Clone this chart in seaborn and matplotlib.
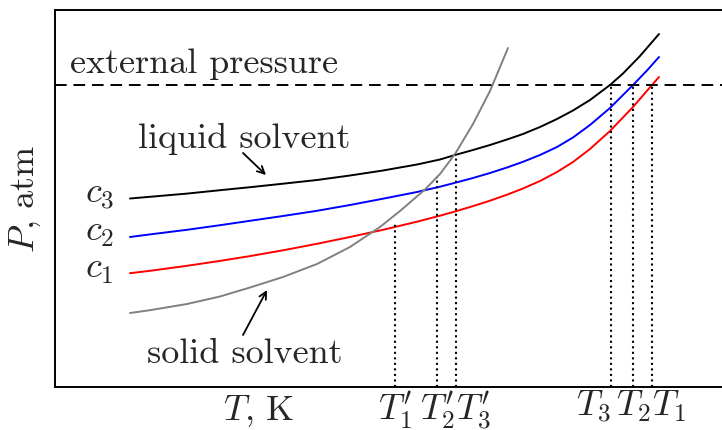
import numpy as np
import pandas as pd
import seaborn as sns
import matplotlib
matplotlib.use("Agg")
import matplotlib.pyplot as plt

sns.set_style("white")
plt.rcParams["font.family"] = "serif"
plt.rcParams["font.serif"] = ["cmr10", "DejaVu Serif"]
plt.rcParams["mathtext.fontset"] = "cm"
plt.rcParams["axes.unicode_minus"] = False

# vapour pressure curves (arbitrary units)
T_c3 = [75, 95, 132, 165, 195, 228, 262, 295, 328, 362, 385, 400, 418, 435,
        452, 468, 485, 502, 518, 535, 555, 568, 585, 604]
P_c3 = [188.5, 190.2, 193.4, 196.8, 199.8, 203.3, 207, 211.5, 216.5, 222.5,
        227.5, 232, 237, 242, 247.5, 253, 260, 268, 276.5, 287, 302, 313.5,
        331, 353]

T_c2 = [75, 95, 132, 165, 195, 228, 262, 295, 328, 362, 385, 400, 418, 435,
        452, 468, 485, 502, 518, 535, 555, 578, 592, 604]
P_c2 = [150, 152.6, 157.2, 161.8, 166.2, 171, 176.2, 182, 188.3, 195, 200.3,
        204.2, 209, 214, 219.5, 225.2, 232, 240, 249.5, 262, 279, 302, 316.5,
        330]

T_c1 = [75, 95, 132, 165, 195, 228, 262, 295, 328, 362, 385, 400, 418, 435,
        452, 468, 485, 502, 518, 535, 555, 578, 597, 604]
P_c1 = [113.8, 116.2, 121.2, 126.1, 130.9, 136.7, 143.2, 150, 157.2, 165.3,
        171.3, 175.5, 180.9, 186.3, 192.3, 198.5, 206, 215, 225, 238, 256,
        280, 302, 310]

T_solid = [75, 95, 132, 165, 195, 228, 262, 295, 325, 345, 370, 385, 400,
           418, 435, 453]
P_solid = [74, 76.8, 83, 90.5, 99.5, 110, 123, 140, 160, 176, 197.5, 213,
           233, 263, 296, 339]

P_ext = 302

# freezing / boiling points and the height of their guide lines
T_marks = [340, 382, 401, 556, 578, 597]
P_marks = [165, 210, 233, 302, 302, 302]
mark_labels = [r"$T_1'$", r"$T_2'$", r"$T_3'$", r"$T_3$", r"$T_2$", r"$T_1$"]
mark_ha = ["center", "center", "left", "right", "center", "left"]

fig = plt.figure(figsize=(7.22, 4.30), dpi=100)
ax = fig.add_axes([55 / 722, 43 / 430, 675 / 722, 377 / 430])

sns.lineplot(x=T_c3, y=P_c3, color="black", lw=1.4, ax=ax)
sns.lineplot(x=T_c2, y=P_c2, color="blue", lw=1.4, ax=ax)
sns.lineplot(x=T_c1, y=P_c1, color="red", lw=1.4, ax=ax)
sns.lineplot(x=T_solid, y=P_solid, color="gray", lw=1.4, ax=ax)

ax.axhline(P_ext, color="black", lw=1.4, dashes=(6, 3.5))
for t, p in zip(T_marks, P_marks):
    ax.plot([t, t], [0, p], color="black", lw=1.5, ls=":")

ax.set_xlim(0, 675)
ax.set_ylim(0, 377)
ax.set_yticks([])
ax.set_xticks(T_marks)
ax.set_xticklabels(mark_labels, fontsize=26)
for lab, ha in zip(ax.get_xticklabels(), mark_ha):
    lab.set_ha(ha)
ax.tick_params(axis="x", length=0, pad=1.5)

for s in ["left", "bottom", "top"]:
    ax.spines[s].set_linewidth(1.4)
    ax.spines[s].set_color("black")
ax.spines["right"].set_visible(False)

ax.set_xlabel(r"$T,\,\mathrm{K}$", fontsize=26, va="top")
ax.xaxis.set_label_coords(0.302, -0.016)
ax.set_ylabel(r"$P,\,\mathrm{atm}$", fontsize=26)
ax.yaxis.set_label_coords(-0.018, 0.5)

fs = 26
ax.text(15, 314, "external pressure", fontsize=fs, ha="left", va="baseline")
ax.text(30, 184, r"$c_3$", fontsize=fs, ha="left", va="baseline")
ax.text(30, 146, r"$c_2$", fontsize=fs, ha="left", va="baseline")
ax.text(30, 109, r"$c_1$", fontsize=fs, ha="left", va="baseline")

ax.text(83, 239, "liquid solvent", fontsize=fs, ha="left", va="baseline")
ax.annotate("", xy=(211, 212), xytext=(188, 234),
            arrowprops=dict(arrowstyle="->", color="black", lw=1.3,
                            shrinkA=0, shrinkB=0, mutation_scale=13))
ax.text(92, 24, "solid solvent", fontsize=fs, ha="left", va="baseline")
ax.annotate("", xy=(212, 97), xytext=(188, 52),
            arrowprops=dict(arrowstyle="->", color="black", lw=1.3,
                            shrinkA=0, shrinkB=0, mutation_scale=13))

fig.savefig("out.png", dpi=100)
